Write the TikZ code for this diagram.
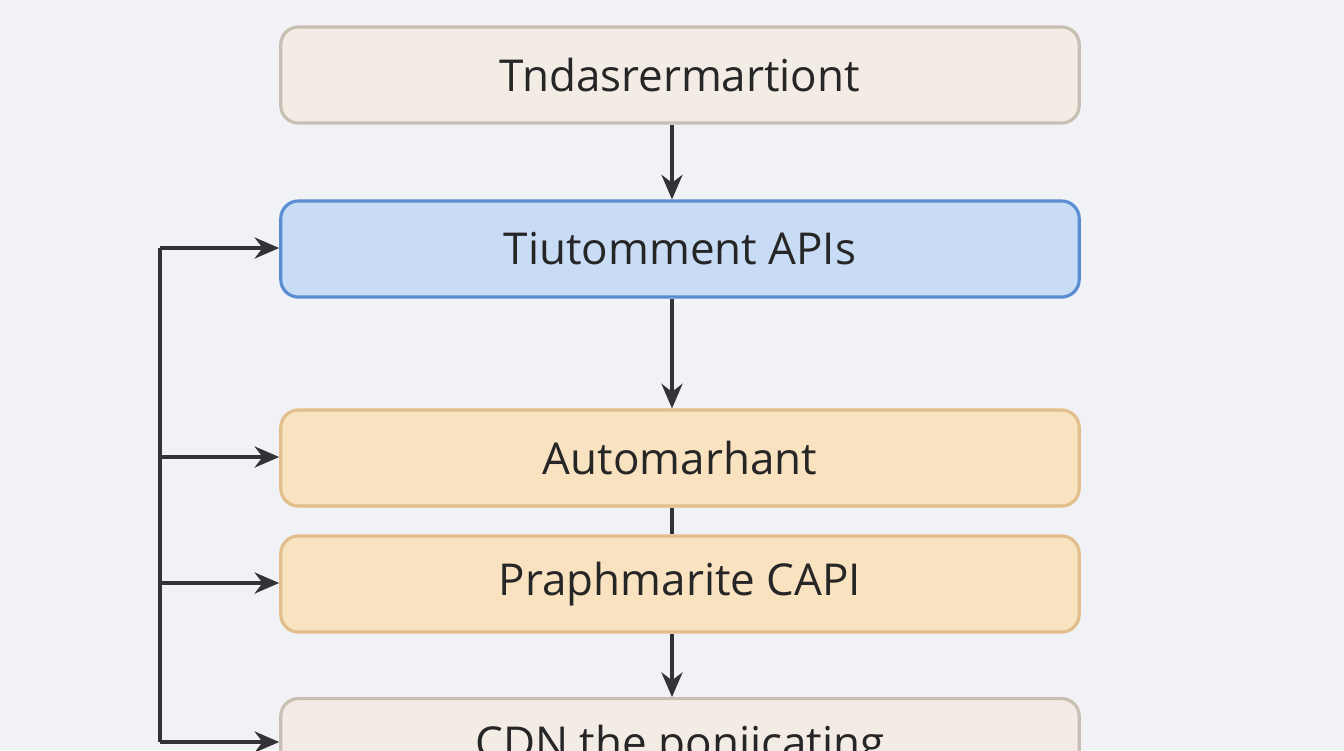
\documentclass[tikz,border=0pt]{standalone}
\usepackage{fontspec}
\setmainfont{Open Sans}
\usetikzlibrary{arrows.meta}
\definecolor{bg}{RGB}{240,242,245}
\definecolor{beige}{RGB}{242,236,228}
\definecolor{beigeb}{RGB}{200,190,180}
\definecolor{blu}{RGB}{200,220,246}
\definecolor{blub}{RGB}{90,140,210}
\definecolor{ora}{RGB}{248,226,192}
\definecolor{orab}{RGB}{225,190,140}
\definecolor{ln}{RGB}{50,50,55}
\begin{document}
\begin{tikzpicture}[x=0.01cm,y=-0.01cm,
 box/.style={draw,rounded corners=5pt,line width=0.9pt,minimum width=7.98cm,minimum height=0.96cm,font=\fontsize{12.5}{14}\selectfont,text=black!85},
 arr/.style={draw=ln,line width=1pt,-{Stealth[length=7pt,width=6pt]}}]
\useasboundingbox (0,0) rectangle (1344,750);
\fill[bg] (0,0) rectangle (1344,750);
\node[box,fill=beige,draw=beigeb] (a) at (680,75) {Tndasrermartiont};
\node[box,fill=blu,draw=blub] (b) at (680,249) {Tiutomment APIs};
\node[box,fill=ora,draw=orab] (c) at (680,458) {Automarhant};
\node[box,fill=ora,draw=orab] (d) at (680,584) {Praphmarite CAPI};
\node[box,fill=beige,draw=beigeb,anchor=north] (e) at (680,697) {CDN the ponjicating};
\draw[arr] (a.south -| 672,0) -- (b.north -| 672,0);
\draw[arr] (b.south -| 672,0) -- (c.north -| 672,0);
\draw[ln,line width=1pt] (c.south -| 672,0) -- (d.north -| 672,0);
\draw[arr] (d.south -| 672,0) -- (e.north -| 672,0);
\coordinate (l1) at (160,248);
\coordinate (l4) at (160,742);
\draw[ln,line width=1pt] (l4) -- (l1);
\draw[arr] (l1) -- (b.west |- l1);
\draw[arr] (160,457) -- (c.west |- 0,457);
\draw[arr] (160,583) -- (d.west |- 0,583);
\draw[arr] (l4) -- (e.west |- l4);
\end{tikzpicture}
\end{document}
